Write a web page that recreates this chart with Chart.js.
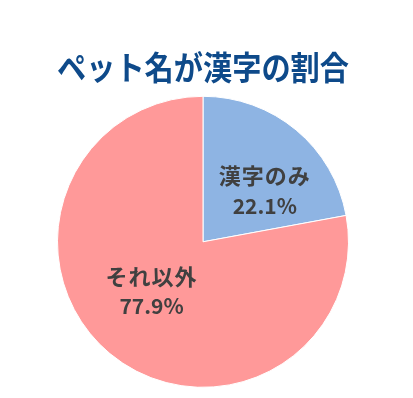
<!DOCTYPE html>
<html>
<head>
<meta charset="utf-8">
<script src="https://cdn.jsdelivr.net/npm/chart.js@4"></script>
<style>
  html, body { margin: 0; padding: 0; background: #fff; }
  #wrap { width: 413px; height: 398px; }
</style>
</head>
<body>
<div id="wrap"><canvas id="pie"></canvas></div>
<script>
const titleText = "ペット名が漢字の割合";
const categories = ["漢字のみ", "それ以外"];
const shares = [22.1, 77.9];
const sliceColors = ["#8EB4E3", "#FF9999"];

// label placement tweaks: angle shift (deg) from slice middle, radius fraction
const labelPlace = [
  { shift: 10.8, r: 0.55 },
  { shift: 6.4, r: 0.49 }
];

const sliceLabels = {
  id: "sliceLabels",
  afterDatasetsDraw(chart) {
    const ctx = chart.ctx;
    const meta = chart.getDatasetMeta(0);
    ctx.save();
    ctx.fillStyle = "#404040";
    ctx.textAlign = "center";
    ctx.textBaseline = "middle";
    meta.data.forEach((arc, i) => {
      const p = arc.getProps(["x", "y", "startAngle", "endAngle", "outerRadius"], true);
      const mid = (p.startAngle + p.endAngle) / 2 + labelPlace[i].shift * Math.PI / 180;
      const d = p.outerRadius * labelPlace[i].r;
      const cx = p.x + Math.cos(mid) * d;
      const cy = p.y + Math.sin(mid) * d;
      ctx.font = "bold 22px 'Noto Sans CJK JP', sans-serif";
      ctx.letterSpacing = "1px";
      ctx.fillText(categories[i], cx, cy - 15);
      ctx.font = "bold 21px 'Noto Sans CJK JP', sans-serif";
      ctx.letterSpacing = "0px";
      ctx.fillText(shares[i].toFixed(1) + "%", cx, cy + 15);
    });
    ctx.restore();
  }
};

new Chart(document.getElementById("pie"), {
  type: "pie",
  data: {
    labels: categories,
    datasets: [{
      data: shares,
      backgroundColor: sliceColors,
      borderColor: "#ffffff",
      borderWidth: 1
    }]
  },
  options: {
    responsive: true,
    maintainAspectRatio: false,
    animation: false,
    layout: { padding: { left: 57, right: 64, top: 0, bottom: 10 } },
    plugins: {
      legend: { display: false },
      tooltip: { enabled: false },
      title: {
        display: true,
        text: titleText,
        color: "#0E4A8A",
        font: { family: "'Noto Sans CJK JP', sans-serif", size: 33, weight: "bold" },
        padding: { top: 48, bottom: 8 }
      }
    }
  },
  plugins: [sliceLabels]
});
</script>
</body>
</html>
